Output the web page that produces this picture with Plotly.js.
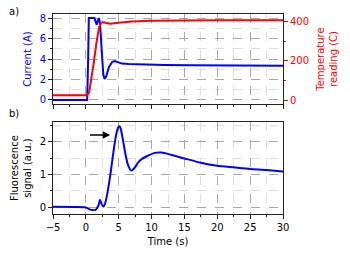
<!DOCTYPE html>
<html>
<head>
<meta charset="utf-8">
<script src="https://cdn.plot.ly/plotly-3.0.1.min.js"></script>
<style>html,body{margin:0;padding:0;background:#fff;}#chart{width:350px;height:260px;}</style>
</head>
<body>
<div id="chart"></div>
<script>
// Current (A) vs time (s)
const currentTime = [-5, 0.2, 0.35, 0.45, 1.3, 1.5, 1.65, 1.8, 2.0, 2.15, 2.4, 2.65, 2.85, 3.1, 3.5, 4.0, 4.4, 4.9, 5.5, 6.5, 8, 12, 16, 20, 25, 30];
const currentVals = [0, 0, 4, 8, 8, 7.6, 7.35, 7.7, 8, 7.5, 4.5, 2.5, 2.05, 2.3, 3.2, 3.7, 3.8, 3.7, 3.55, 3.5, 3.47, 3.42, 3.4, 3.37, 3.35, 3.33];
// Temperature reading (C) vs time (s)
const tempTime = [-5, 0.2, 0.5, 0.8, 1.2, 1.6, 2.0, 2.3, 2.6, 3.0, 3.7, 5, 7, 10, 15, 20, 25, 30];
const tempVals = [25, 25, 40, 100, 190, 290, 370, 395, 398, 395, 390, 395, 402, 406, 408, 408, 408, 408];
// Fluorescence signal (a.u.) vs time (s)
const fluoTime = [-5, -2, 0, 0.5, 1, 1.5, 1.9, 2.15, 2.4, 2.65, 2.9, 3.2, 3.5, 3.8, 4.2, 4.6, 4.9, 5.1, 5.3, 5.6, 6.0, 6.4, 6.9, 7.4, 8, 8.5, 9.5, 10.5, 11.5, 12.5, 13.5, 15, 17.5, 20, 22.5, 25, 27.5, 30];
const fluoVals = [0.02, 0.01, 0.0, -0.05, -0.08, -0.07, 0.05, 0.23, 0.1, 0.03, 0.1, 0.35, 0.7, 1.1, 1.7, 2.2, 2.43, 2.47, 2.4, 2.1, 1.65, 1.3, 1.12, 1.2, 1.38, 1.47, 1.58, 1.66, 1.67, 1.63, 1.57, 1.49, 1.36, 1.27, 1.22, 1.17, 1.14, 1.09];
// Arrow (time range, level)
const arrowTime = [0.4, 3.7];
const arrowLevel = 2.2;
const xTickVals = [-5, 0, 5, 10, 15, 20, 25, 30];

const FONT = 'DejaVu Sans, sans-serif';
const FS = 10;
const majGrid = '#a8a8a8', minGrid = '#dedede', frame = '#222';

function xAxis(extra) {
  return Object.assign({
    range: [-5, 30], tickvals: xTickVals, ticks: 'outside', ticklen: 4, tickcolor: frame,
    showgrid: true, gridcolor: majGrid, griddash: 'dash', gridwidth: 1,
    minor: {dtick: 2.5, ticks: 'outside', ticklen: 2, tickcolor: frame, showgrid: true, gridcolor: minGrid, griddash: 'dash'},
    showline: true, mirror: true, linecolor: frame, linewidth: 1, zeroline: false,
    tickfont: {family: FONT, size: FS, color: '#000'}
  }, extra);
}

const data = [
  {x: currentTime, y: currentVals, xaxis: 'x', yaxis: 'y', mode: 'lines', line: {color: '#0000ff', width: 2}, name: 'Current'},
  {x: tempTime, y: tempVals, xaxis: 'x', yaxis: 'y2', mode: 'lines', line: {color: '#ff0000', width: 2}, name: 'Temperature'},
  {x: fluoTime, y: fluoVals, xaxis: 'x2', yaxis: 'y3', mode: 'lines', line: {color: '#0000ff', width: 2, shape: 'spline', smoothing: 0.6}, name: 'Fluorescence'}
];

const layout = {
  width: 350, height: 260,
  margin: {l: 53, r: 67, t: 14, b: 46},
  paper_bgcolor: '#fff', plot_bgcolor: '#fff',
  showlegend: false,
  font: {family: FONT, size: FS, color: '#000'},
  xaxis: xAxis({anchor: 'y', showticklabels: false, matches: 'x2'}),
  xaxis2: xAxis({anchor: 'y3', title: {text: 'Time (s)', font: {family: FONT, size: FS}, standoff: 5}}),
  yaxis: {
    domain: [0.55, 1], anchor: 'x', range: [-0.4, 8.4], tickvals: [0, 2, 4, 6, 8],
    ticks: 'outside', ticklen: 4, tickcolor: '#0000ff',
    tickfont: {family: FONT, size: FS, color: '#0000ff'},
    showgrid: true, gridcolor: majGrid, griddash: 'dash',
    minor: {dtick: 1, ticks: 'outside', ticklen: 2, tickcolor: '#0000ff', showgrid: true, gridcolor: minGrid, griddash: 'dash'},
    showline: true, mirror: true, linecolor: frame, zeroline: false,
    title: {text: 'Current (A)', font: {family: FONT, size: FS, color: '#0000ff'}, standoff: 6}
  },
  yaxis2: {
    overlaying: 'y', side: 'right', anchor: 'x', range: [-20, 440], tickvals: [0, 200, 400],
    ticks: 'outside', ticklen: 4, tickcolor: '#ff0000',
    tickfont: {family: FONT, size: FS, color: '#ff0000'},
    showgrid: false,
    minor: {dtick: 100, ticks: 'outside', ticklen: 2, tickcolor: '#ff0000', showgrid: false},
    showline: true, linecolor: frame, zeroline: false,
    title: {text: 'Temperature<br>reading (C)', font: {family: FONT, size: FS, color: '#ff0000'}, standoff: 8}
  },
  yaxis3: {
    domain: [0, 0.4585], anchor: 'x2', range: [-0.2, 2.59], tickvals: [0, 1, 2],
    ticks: 'outside', ticklen: 4, tickcolor: frame,
    tickfont: {family: FONT, size: FS, color: '#000'},
    showgrid: true, gridcolor: majGrid, griddash: 'dash',
    minor: {dtick: 0.5, ticks: 'outside', ticklen: 2, tickcolor: frame, showgrid: true, gridcolor: minGrid, griddash: 'dash'},
    showline: true, mirror: true, linecolor: frame, zeroline: false,
    title: {text: 'Fluorescence<br>signal (a.u.)', font: {family: FONT, size: FS, color: '#000'}, standoff: 6}
  },
  annotations: [
    {xref: 'paper', yref: 'paper', x: -0.2, y: 1.01, xanchor: 'left', yanchor: 'middle', text: 'a)', showarrow: false, font: {family: FONT, size: FS}},
    {xref: 'paper', yref: 'paper', x: -0.2, y: 0.5025, xanchor: 'left', yanchor: 'middle', text: 'b)', showarrow: false, font: {family: FONT, size: FS}},
    {xref: 'x2', yref: 'y3', axref: 'x2', ayref: 'y3', x: arrowTime[1], y: arrowLevel, ax: arrowTime[0], ay: arrowLevel,
     text: '', showarrow: true, arrowhead: 2, arrowsize: 1, arrowwidth: 1.5, arrowcolor: '#000'}
  ]
};

Plotly.newPlot('chart', data, layout, {staticPlot: true, displayModeBar: false});
</script>
</body>
</html>
